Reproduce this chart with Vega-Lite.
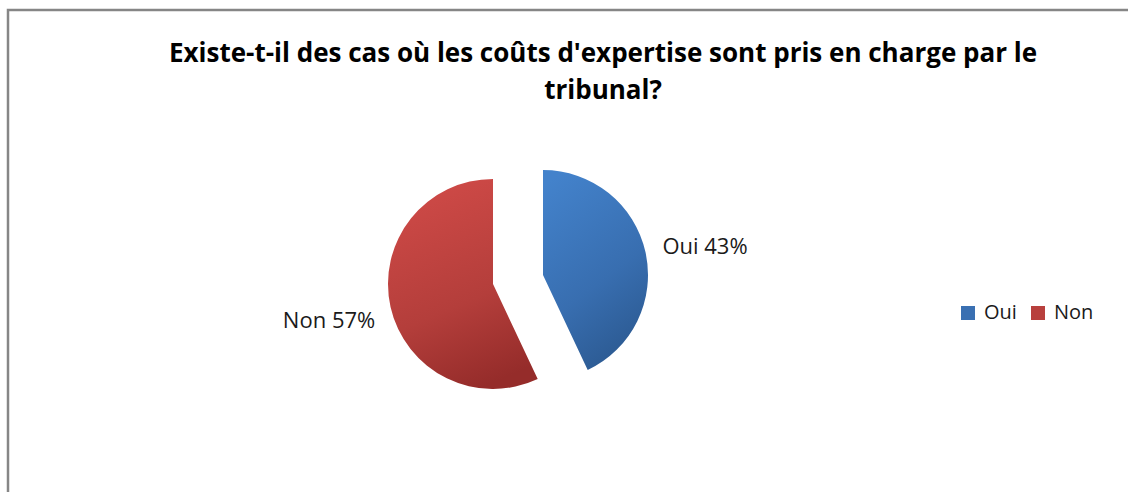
{
  "$schema": "https://vega.github.io/schema/vega-lite/v6.json",
  "width": 1200,
  "height": 600,
  "autosize": {"type": "none"},
  "padding": {"left": 8, "top": 10, "right": 0, "bottom": 0},
  "background": "white",
  "view": {"stroke": "#868686", "strokeWidth": 2.5, "fill": "white"},
  "config": {
    "font": "Open Sans"
  },
  "title": {
    "text": ["Existe-t-il des cas où les coûts d'expertise sont pris en charge par le", "tribunal?"],
    "font": "Open Sans",
    "fontSize": 26,
    "fontWeight": "bold",
    "color": "#000000",
    "anchor": "middle",
    "frame": "group",
    "baseline": "alphabetic",
    "lineHeight": 37,
    "offset": -115,
    "dx": -5
  },
  "data": {
    "values": [
      {"reponse": "Oui", "pct": 43, "label": "Oui 43%"},
      {"reponse": "Non", "pct": 57, "label": "Non 57%"}
    ]
  },
  "transform": [
    {"stack": "pct", "groupby": [], "as": ["p0", "p1"], "sort": [{"field": "reponse", "order": "descending"}]},
    {"calculate": "(datum.p0 + datum.p1) / 2", "as": "pmid"}
  ],
  "layer": [
    {
      "transform": [{"filter": "datum.reponse === 'Oui'"}],
      "mark": {
        "type": "arc",
        "outerRadius": 105,
        "xOffset": -65,
        "yOffset": -35,
        "fill": {
          "gradient": "linear",
          "x1": 0.2, "y1": 0, "x2": 0.6, "y2": 1,
          "stops": [
            {"offset": 0, "color": "#4382CB"},
            {"offset": 0.6, "color": "#386EB0"},
            {"offset": 1, "color": "#2C5A92"}
          ]
        }
      },
      "encoding": {
        "theta": {"field": "p0", "type": "quantitative", "scale": {"domain": [0, 100]}, "stack": null},
        "theta2": {"field": "p1"}
      }
    },
    {
      "transform": [{"filter": "datum.reponse === 'Non'"}],
      "mark": {
        "type": "arc",
        "outerRadius": 105,
        "xOffset": -115,
        "yOffset": -26,
        "fill": {
          "gradient": "linear",
          "x1": 0.3, "y1": 0, "x2": 0.6, "y2": 1,
          "stops": [
            {"offset": 0, "color": "#CF4A47"},
            {"offset": 0.6, "color": "#B43E3B"},
            {"offset": 1, "color": "#952C2A"}
          ]
        }
      },
      "encoding": {
        "theta": {"field": "p0", "type": "quantitative", "scale": {"domain": [0, 100]}, "stack": null},
        "theta2": {"field": "p1"}
      }
    },
    {
      "transform": [{"filter": "datum.reponse === 'Oui'"}],
      "mark": {"type": "text", "radius": 166, "xOffset": -65, "yOffset": -27, "fontSize": 22, "font": "Open Sans", "color": "#1a1a1a", "align": "center", "baseline": "middle"},
      "encoding": {
        "theta": {"field": "pmid", "type": "quantitative", "scale": {"domain": [0, 100]}, "stack": null},
        "text": {"field": "label"}
      }
    },
    {
      "transform": [{"filter": "datum.reponse === 'Non'"}],
      "mark": {"type": "text", "radius": 168, "xOffset": -115, "yOffset": -26, "fontSize": 22, "font": "Open Sans", "color": "#1a1a1a", "align": "center", "baseline": "middle"},
      "encoding": {
        "theta": {"field": "pmid", "type": "quantitative", "scale": {"domain": [0, 100]}, "stack": null},
        "text": {"field": "label"}
      }
    },
    {
      "mark": {"type": "arc", "outerRadius": 10, "opacity": 0},
      "encoding": {
        "theta": {"field": "p0", "type": "quantitative", "scale": {"domain": [0, 100]}, "stack": null},
        "theta2": {"field": "p1"},
        "color": {
          "field": "reponse",
          "type": "nominal",
          "scale": {"domain": ["Oui", "Non"], "range": ["#3A70B2", "#B8403D"]},
          "legend": {
            "title": null,
            "orient": "none",
            "legendX": 950,
            "legendY": 293,
            "direction": "horizontal",
            "symbolType": "square",
            "symbolSize": 196,
            "symbolOpacity": 1,
            "symbolStrokeWidth": 0,
            "labelFont": "Open Sans",
            "labelFontSize": 20,
            "labelColor": "#1a1a1a",
            "labelOffset": 6,
            "columnPadding": 11,
            "padding": 0
          }
        }
      }
    }
  ]
}
